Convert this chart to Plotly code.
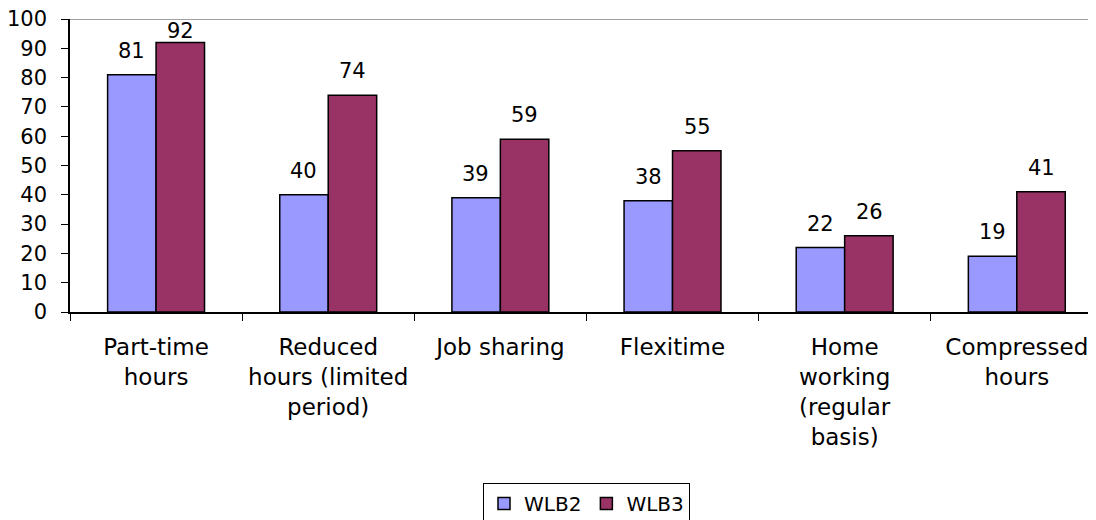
import plotly.graph_objects as go

categories = ["Part-time<br>hours", "Reduced<br>hours (limited<br>period)", "Job sharing",
              "Flexitime", "Home<br>working<br>(regular<br>basis)", "Compressed<br>hours"]
wlb2 = [81, 40, 39, 38, 22, 19]
wlb3 = [92, 74, 59, 55, 26, 41]
series_names = ["WLB2", "WLB3"]
colors = ["#9999FF", "#993366"]

FONT = "DejaVu Sans"
FS = 20

# the page body has an 8px margin; the figure is sized to fill the rest of the window
W, H = 1088, 512

fig = go.Figure()
for name, vals, col in zip(series_names, [wlb2, wlb3], colors):
    fig.add_trace(go.Bar(name=name, x=categories, y=vals, marker_color=col,
                         marker_line=dict(color="black", width=1.5)))

annotations = []
for vals, shift in [(wlb2, -24.5), (wlb3, 24.5)]:
    for c, v in zip(categories, vals):
        annotations.append(dict(x=c, y=min(v + 8.2, 95.9), xref="x", yref="y", text=str(v),
                                showarrow=False, xshift=shift, yanchor="middle",
                                font=dict(family=FONT, size=21, color="black")))

fig.update_layout(
    width=W, height=H,
    margin=dict(l=62, r=0, t=11, b=208),
    plot_bgcolor="white", paper_bgcolor="white",
    barmode="group", bargap=0.437, bargroupgap=0,
    font=dict(family=FONT, size=FS, color="black"),
    annotations=annotations,
    showlegend=True,
    legend=dict(orientation="h", xref="container", yref="container", x=578.5 / W, xanchor="center",
                y=1 - 475 / H, yanchor="top", bordercolor="black", borderwidth=1,
                font=dict(family=FONT, size=20), itemwidth=30, tracegroupgap=0),
    xaxis=dict(range=[-0.5, 5.46], showline=True, linecolor="black", linewidth=1.5,
               ticks="outside", tickson="boundaries", ticklen=7, tickcolor="black",
               showgrid=False, tickfont=dict(family=FONT, size=23), tickangle=0,
               ticklabelstandoff=14),
    yaxis=dict(range=[0, 100], dtick=10, showline=True, linecolor="black", linewidth=1.5,
               ticks="outside", ticklen=7, tickcolor="black", showgrid=False,
               zeroline=False, ticklabelstandoff=10, ticklabeloverflow="allow",
               tickfont=dict(family=FONT, size=21)),
    shapes=[dict(type="line", xref="paper", yref="y", x0=0, x1=1, y0=100, y1=100,
                 line=dict(color="#808080", width=1.5))],
)

fig.write_html("out.html")
